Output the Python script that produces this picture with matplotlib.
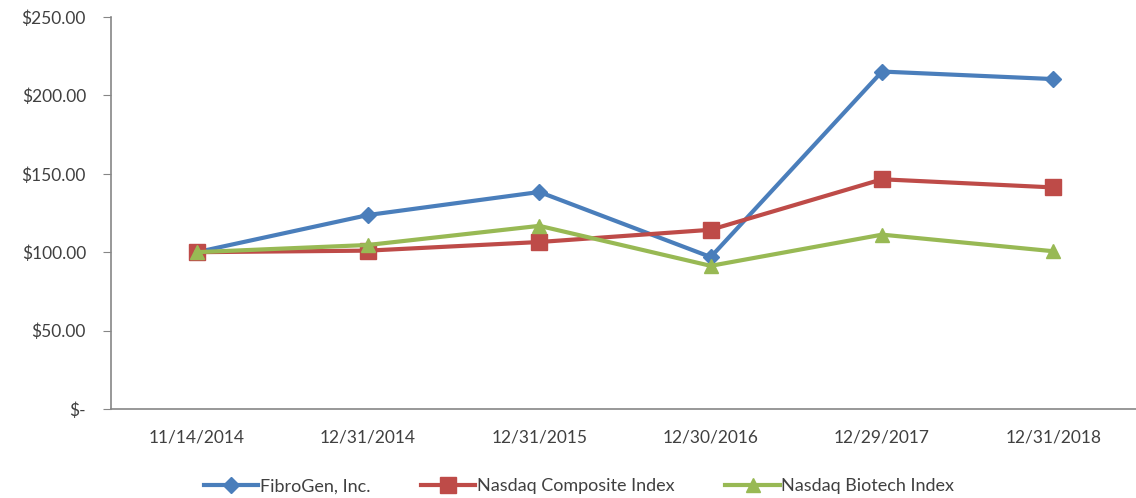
import numpy as np
import matplotlib.pyplot as plt

dates = ['11/14/2014', '12/31/2014', '12/31/2015', '12/30/2016', '12/29/2017', '12/31/2018']
fibrogen = [100.0, 123.7, 138.4, 96.9, 215.2, 210.4]
nasdaq_comp = [100.0, 101.0, 106.5, 114.3, 146.5, 141.3]
nasdaq_bio = [100.0, 104.6, 116.8, 91.3, 111.2, 100.6]
yticks = [0, 50, 100, 150, 200, 250]
ytick_labels = ['$-', '$50.00', '$100.00', '$150.00', '$200.00', '$250.00']

plt.rcParams['font.family'] = ['Lato', 'DejaVu Sans']

fig = plt.figure(figsize=(11.36, 4.98), dpi=100)
ax = fig.add_axes([0.0977, 0.1787, 0.905, 0.7872])

x = np.arange(len(dates))
ax.plot(x, fibrogen, color='#4A7EBB', lw=3, marker='D', ms=8, label='FibroGen, Inc.')
ax.plot(x, nasdaq_comp, color='#BE4B48', lw=3, marker='s', ms=11, label='Nasdaq Composite Index')
ax.plot(x, nasdaq_bio, color='#98B954', lw=3, marker='^', ms=10, label='Nasdaq Biotech Index')

ax.set_xlim(-0.5, 5.5)
ax.set_ylim(0, 250)
ax.set_xticks(x)
ax.set_xticklabels(dates, fontsize=12.5, color='#404040')
ax.set_yticks(yticks)
ax.set_yticklabels(ytick_labels, fontsize=12.5, color='#404040')
ax.tick_params(axis='x', length=0, pad=15)
ax.tick_params(axis='y', length=6, color='#868686', pad=12)
for side in ['top', 'right']:
    ax.spines[side].set_visible(False)
for side in ['left', 'bottom']:
    ax.spines[side].set_color('#868686')
    ax.spines[side].set_linewidth(1.2)

fig.legend(loc='lower center', bbox_to_anchor=(0.51, -0.025), ncol=3, frameon=False,
           fontsize=13, handlelength=3, handletextpad=0.1, columnspacing=2.8,
           labelcolor='#404040')

fig.savefig('out.png', dpi=100)
